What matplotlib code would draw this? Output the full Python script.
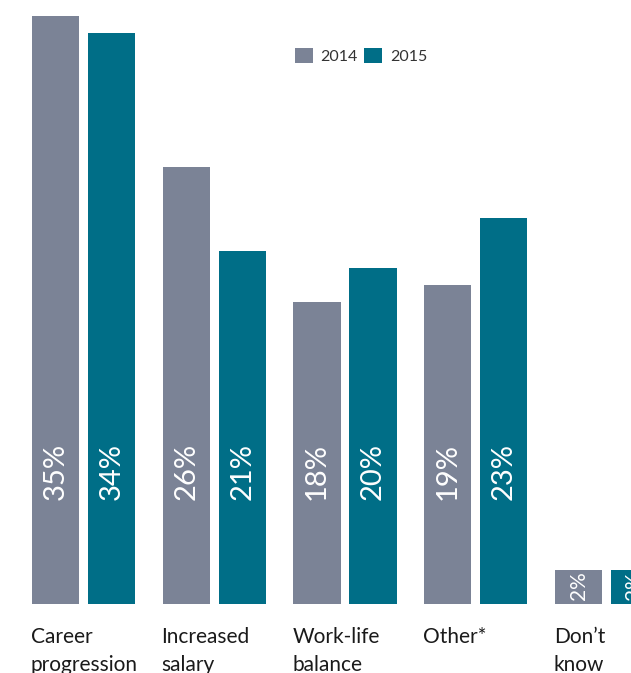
import numpy as np
import matplotlib.pyplot as plt

# survey results by reason, two years
categories = ["Career\nprogression", "Increased\nsalary", "Work-life\nbalance", "Other*", "Don\u2019t\nknow"]
years = ["2014", "2015"]
values_2014 = [35, 26, 18, 19, 2]
values_2015 = [34, 21, 20, 23, 2]

col_2014 = "#7b8396"
col_2015 = "#006e87"

plt.rcParams['font.family'] = ['Lato', 'DejaVu Sans']

fig = plt.figure(figsize=(6.31, 6.73), dpi=100)
ax = fig.add_axes([0, 69 / 673, 1, 604 / 673])

x = np.arange(len(categories))
w = 0.36
off = 0.214
b1 = ax.bar(x - off, values_2014, w, color=col_2014, label=years[0])
b2 = ax.bar(x + off, values_2015, w, color=col_2015, label=years[1])

# percentage labels, rotated, near the bottom of each bar
for bars, vals in [(b1, values_2014), (b2, values_2015)]:
    for rect, v in zip(bars, vals):
        if v > 8:
            ypos, fs = 6.2, 21
        else:
            ypos, fs = 0.25, 15
        ax.text(rect.get_x() + rect.get_width() / 2, ypos, f"{v}%",
                rotation=90, ha='center', va='bottom', color='white',
                fontsize=fs)

# category names under the groups, left aligned with the first bar
for xi, name in zip(x, categories):
    ax.text(xi - off - w / 2 - 0.01, -1.35, name, ha='left', va='top',
            fontsize=15, color='#1a1a1a', linespacing=1.55, clip_on=False)

ax.set_xlim(-83.5 / 130.75, (631 - 83.5) / 130.75)
ax.set_ylim(0, 604 / 16.8)
ax.axis('off')

leg = ax.legend(loc='upper left', bbox_to_anchor=(295 / 631, 1 - 48 / 604), ncol=2,
                frameon=False, fontsize=11.5, handlelength=1.1, handleheight=1.1,
                handletextpad=0.5, columnspacing=0.4, borderpad=0, borderaxespad=0)
for t in leg.get_texts():
    t.set_color('#333333')

fig.savefig("out.png", dpi=100)
